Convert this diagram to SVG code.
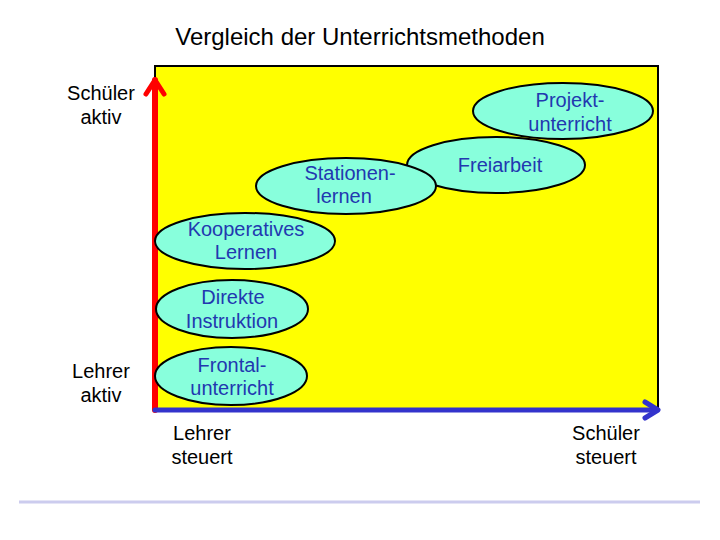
<svg xmlns="http://www.w3.org/2000/svg" width="720" height="540" viewBox="0 0 720 540">
<style>
text{font-family:"Liberation Sans",Arial,sans-serif;font-size:20px;text-anchor:middle}
.lbl{fill:#000}
.nt{fill:#2238b0}
.node ellipse{fill:#88ffdc;stroke:#000;stroke-width:2}
</style>
<rect width="720" height="540" fill="#fff"/>
<text class="lbl" x="360" y="45" style="font-size:24px">Vergleich der Unterrichtsmethoden</text>
<rect x="155" y="66" width="503" height="344" fill="#ffff00" stroke="#000" stroke-width="2"/>
<g id="connectors" fill="none" stroke-linecap="round" stroke-linejoin="round">
<path d="M155,410 V80" stroke="#ff0000" stroke-width="6"/>
<path d="M146,94 L155,80 L164,94" stroke="#ff0000" stroke-width="5"/>
<path d="M155,410 H657" stroke="#3333cc" stroke-width="5"/>
<path d="M645,402 L658,410 L645,418" stroke="#3333cc" stroke-width="5"/>
</g>
<g id="n-projekt" class="node"><ellipse cx="563" cy="111" rx="90" ry="28"/><text class="nt" x="570" y="107">Projekt-</text><text class="nt" x="570" y="131">unterricht</text></g>
<g id="n-freiarbeit" class="node"><ellipse cx="496" cy="165" rx="89" ry="28"/><text class="nt" x="500" y="172">Freiarbeit</text></g>
<g id="n-stationen" class="node"><ellipse cx="346" cy="186" rx="90" ry="28"/><text class="nt" x="350" y="180">Stationen-</text><text class="nt" x="344" y="203">lernen</text></g>
<g id="n-kooperativ" class="node"><ellipse cx="245" cy="241" rx="90" ry="28"/><text class="nt" x="246" y="236">Kooperatives</text><text class="nt" x="246" y="259">Lernen</text></g>
<g id="n-direkt" class="node"><ellipse cx="232" cy="309" rx="76" ry="29"/><text class="nt" x="233" y="304">Direkte</text><text class="nt" x="232" y="328">Instruktion</text></g>
<g id="n-frontal" class="node"><ellipse cx="231" cy="376" rx="76" ry="29"/><text class="nt" x="232" y="372">Frontal-</text><text class="nt" x="232" y="395">unterricht</text></g>
<g id="labels">
<text class="lbl" x="101" y="100">Schüler</text><text class="lbl" x="101" y="124">aktiv</text>
<text class="lbl" x="101" y="378">Lehrer</text><text class="lbl" x="101" y="402">aktiv</text>
<text class="lbl" x="202" y="440">Lehrer</text><text class="lbl" x="202" y="464">steuert</text>
<text class="lbl" x="606" y="440">Schüler</text><text class="lbl" x="606" y="464">steuert</text>
</g>
<line x1="19" y1="502" x2="700" y2="502" stroke="#ccccee" stroke-width="3"/>
</svg>
